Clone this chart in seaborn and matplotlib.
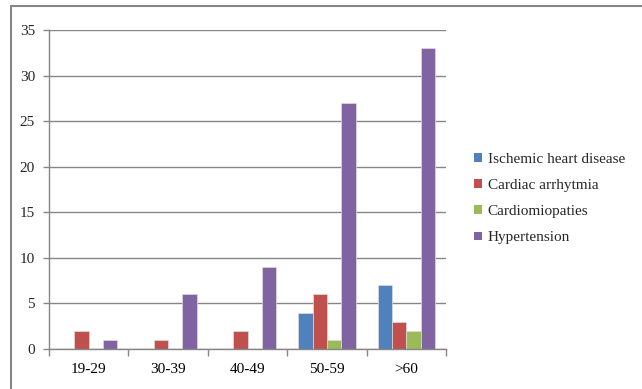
import matplotlib
matplotlib.use("Agg")
import matplotlib.pyplot as plt
import seaborn as sns
import pandas as pd
from matplotlib.patches import Patch
from matplotlib.lines import Line2D

age_groups = ["19-29", "30-39", "40-49", "50-59", ">60"]
series_names = ["Ischemic heart disease", "Cardiac arrhytmia", "Cardiomiopaties", "Hypertension"]
ischemic = [0, 0, 0, 4, 7]
arrhythmia = [2, 1, 2, 6, 3]
cardiomiopaties = [0, 0, 0, 1, 2]
hypertension = [1, 6, 9, 27, 33]
colors = ["#4F81BD", "#C0504D", "#9BBB59", "#8064A2"]

rows = []
for name, vals in zip(series_names, [ischemic, arrhythmia, cardiomiopaties, hypertension]):
    for g, v in zip(age_groups, vals):
        rows.append({"group": g, "series": name, "value": v})
df = pd.DataFrame(rows)

sns.set_style("white")
plt.rcParams["font.family"] = ["Liberation Serif", "DejaVu Serif"]

W, H = 642, 389
fig = plt.figure(figsize=(W / 100, H / 100), dpi=100)
ax = fig.add_axes([49 / W, 1 - 349 / H, (446 - 49) / W, (349 - 30) / H])

sns.barplot(data=df, x="group", y="value", hue="series", order=age_groups,
            hue_order=series_names, palette=colors, width=0.725, ax=ax,
            saturation=1, legend=False, linewidth=0.5, edgecolor="#dddddd")

ax.set_xlim(-0.5, len(age_groups) - 0.5)
ax.set_ylim(0, 35)
ax.set_yticks(range(0, 36, 5))
ax.yaxis.grid(True, color="#868686", linewidth=1)
ax.set_axisbelow(True)
ax.set_xlabel("")
ax.set_ylabel("")

ax.set_xticks([i for i in range(len(age_groups))])
ax.set_xticklabels(age_groups)
ax.set_xticks([i - 0.5 for i in range(len(age_groups) + 1)], minor=True)
ax.tick_params(axis="x", which="major", length=0, pad=10, labelsize=11, colors="#000000")
ax.tick_params(axis="x", which="minor", length=5, width=1, color="#868686", direction="out", bottom=True)
ax.tick_params(axis="y", length=4, width=1, color="#868686", direction="out", pad=6, labelsize=11, left=True)

for s in ["top", "right"]:
    ax.spines[s].set_visible(False)
for s in ["left", "bottom"]:
    ax.spines[s].set_color("#868686")
    ax.spines[s].set_linewidth(1)

handles = [Patch(facecolor=c, edgecolor="none") for c in colors]
fig.legend(handles, series_names, loc="upper left", bbox_to_anchor=(474 / W, 1 - 153 / H),
           frameon=False, fontsize=11, handlelength=0.5, handleheight=0.5,
           handletextpad=0.4, labelspacing=0.86, borderaxespad=0, borderpad=0)

# outer chart border (partially visible)
fig.add_artist(Line2D([11 / W, 1], [1 - 6 / H, 1 - 6 / H], transform=fig.transFigure,
                      color="#868686", linewidth=1.5))
fig.add_artist(Line2D([11 / W, 11 / W], [0, 1 - 6 / H], transform=fig.transFigure,
                      color="#868686", linewidth=1.5))

fig.savefig("out.png", dpi=100)
